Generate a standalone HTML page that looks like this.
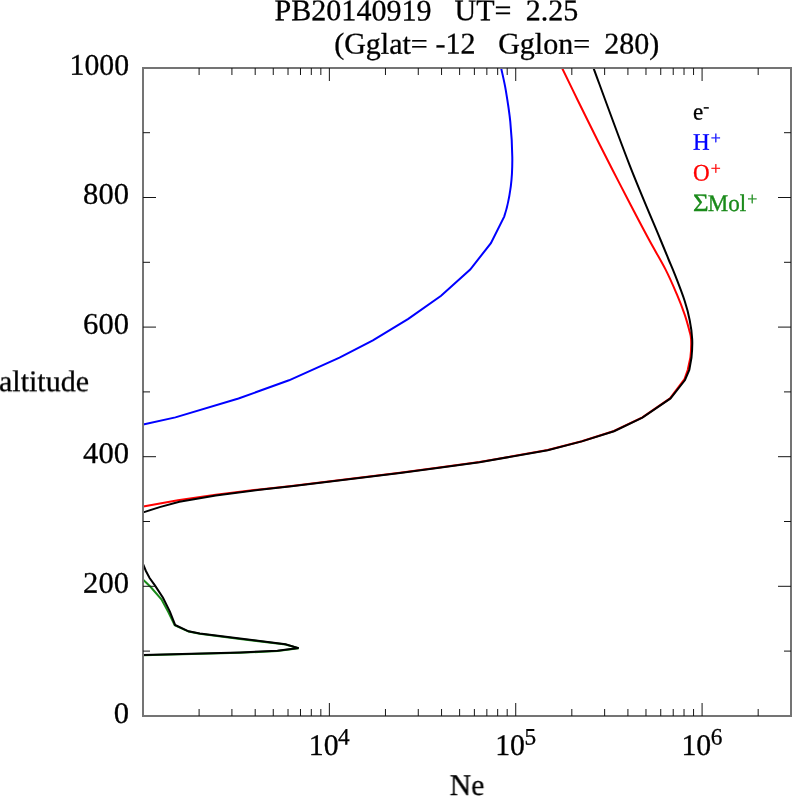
<!DOCTYPE html>
<html><head><meta charset="utf-8"><title>PB20140919 UT= 2.25</title>
<style>
html,body{margin:0;padding:0;background:#fff;}
svg{display:block;will-change:transform;}
text{font-family:"Liberation Serif","DejaVu Serif",serif;text-rendering:geometricPrecision;fill:#000;stroke:#000;stroke-width:0.3px;white-space:pre;}
.t{font-size:30px;}
.l{font-size:23.3px;}
.s{font-size:23.5px;}
.ls{font-size:18px;}
</style></head><body>
<svg width="792" height="796" viewBox="0 0 792 796">
<rect x="0" y="0" width="792" height="796" fill="#fff"/>
<filter id="f" x="-5%" y="-5%" width="110%" height="110%"><feOffset dx="0" dy="0"/></filter>
<clipPath id="c"><rect x="143" y="68" width="648" height="648"/></clipPath>
<g clip-path="url(#c)" fill="none" stroke-width="2" stroke-linejoin="miter" stroke-linecap="butt">
<path stroke="#0000ff" d="M143.2 424.5L175.4 417.4L238.5 398.5L289.0 380.3L339.5 357.6L372.9 340.4L408.3 318.9L441.1 295.7L470.2 269.6L490.9 243.1L504.2 216.6C507.5 207.1 509.5 196.2 510.8 186.3C512.1 176.4 512.4 167.9 512.3 157.2C512.2 146.5 511.4 133.1 510.3 121.9C509.2 110.8 507.3 99.2 505.8 90.3C504.3 81.4 502.0 72.3 501.2 68.3C500.4 64.2 500.9 66.4 500.8 66.0"/>
<polyline stroke="#1a8a1a" points="143.2,579.8 150.7,587.0 161.4,599.3 168.3,612.1 174.7,625.3 188.6,631.6 199.8,633.8 240.0,638.9 285.5,644.5 298.6,648.2 277.4,651.1 240.0,652.8 143.4,655.2"/>
<path stroke="#ff0000" d="M143.3 506.4L177.9 500.3L215.8 494.8L259.7 489.4L291.5 486.0L400.0 472.7L439.2 467.5L479.5 462.1L547.7 450.0L581.8 441.2L614.0 431.0L642.4 417.4L670.0 398.4L684.5 379.0L687.7 370.0L690.4 357.5C691.0 352.4 691.3 343.9 691.1 339.4C690.9 334.9 690.4 334.5 689.3 330.4C688.2 326.3 686.8 320.6 684.7 314.6C682.6 308.6 680.0 301.7 676.8 294.2C673.6 286.7 670.1 278.4 665.5 269.4C660.9 260.4 655.0 250.7 649.2 240.0C643.4 229.3 636.8 216.7 630.7 205.0C624.6 193.3 618.6 181.7 612.6 170.0C606.6 158.3 600.7 146.7 594.9 135.0C589.1 123.3 583.0 111.1 577.6 100.0C572.2 88.9 565.0 74.0 562.2 68.3C559.5 62.6 561.3 66.4 561.1 66.0"/>
<path stroke="#000000" d="M143.3 512.4L159.7 507.1L179.4 501.8L215.8 495.5L259.7 489.7L291.5 486.2L400.0 472.9L439.2 467.7L479.5 462.3L547.7 450.2L581.8 441.4L614.0 431.2L642.4 417.6L670.5 398.4L685.0 380.0L689.3 370.0L691.5 357.5C692.0 352.4 692.5 345.6 692.2 339.4C691.9 333.2 691.0 326.6 689.7 320.2C688.5 313.8 687.2 308.7 684.7 301.0C682.2 293.3 677.3 280.8 674.6 273.9C671.9 267.0 670.9 265.1 668.6 259.5C666.3 253.8 667.1 255.8 660.6 240.0C654.1 224.2 640.7 193.4 629.5 164.8C618.3 136.2 599.7 84.8 593.6 68.3C587.5 51.8 592.9 66.4 592.8 66.0"/>
<polyline stroke="#000000" points="143.2,564.4 145.9,571.0 149.6,578.0 154.9,585.4 163.0,597.7 169.9,611.6 175.1,624.9 188.6,631.3 199.8,633.5 240.0,638.6 285.5,644.2 298.6,648.1 277.4,650.8 240.0,652.5 143.4,655.0"/>
</g>
<rect x="143" y="68" width="648" height="648" fill="none" stroke="#747474" stroke-width="2"/>
<g stroke="#151515" stroke-width="1" fill="none">
<line x1="199.1" y1="716" x2="199.1" y2="709"/>
<line x1="199.1" y1="68" x2="199.1" y2="75"/>
<line x1="231.92" y1="716" x2="231.92" y2="709"/>
<line x1="231.92" y1="68" x2="231.92" y2="75"/>
<line x1="255.2" y1="716" x2="255.2" y2="709"/>
<line x1="255.2" y1="68" x2="255.2" y2="75"/>
<line x1="273.26" y1="716" x2="273.26" y2="709"/>
<line x1="273.26" y1="68" x2="273.26" y2="75"/>
<line x1="288.02" y1="716" x2="288.02" y2="709"/>
<line x1="288.02" y1="68" x2="288.02" y2="75"/>
<line x1="300.49" y1="716" x2="300.49" y2="709"/>
<line x1="300.49" y1="68" x2="300.49" y2="75"/>
<line x1="311.3" y1="716" x2="311.3" y2="709"/>
<line x1="311.3" y1="68" x2="311.3" y2="75"/>
<line x1="320.83" y1="716" x2="320.83" y2="709"/>
<line x1="320.83" y1="68" x2="320.83" y2="75"/>
<line x1="329.36" y1="716" x2="329.36" y2="703"/>
<line x1="329.36" y1="68" x2="329.36" y2="81"/>
<line x1="385.46" y1="716" x2="385.46" y2="709"/>
<line x1="385.46" y1="68" x2="385.46" y2="75"/>
<line x1="418.28" y1="716" x2="418.28" y2="709"/>
<line x1="418.28" y1="68" x2="418.28" y2="75"/>
<line x1="441.56" y1="716" x2="441.56" y2="709"/>
<line x1="441.56" y1="68" x2="441.56" y2="75"/>
<line x1="459.62" y1="716" x2="459.62" y2="709"/>
<line x1="459.62" y1="68" x2="459.62" y2="75"/>
<line x1="474.38" y1="716" x2="474.38" y2="709"/>
<line x1="474.38" y1="68" x2="474.38" y2="75"/>
<line x1="486.85" y1="716" x2="486.85" y2="709"/>
<line x1="486.85" y1="68" x2="486.85" y2="75"/>
<line x1="497.66" y1="716" x2="497.66" y2="709"/>
<line x1="497.66" y1="68" x2="497.66" y2="75"/>
<line x1="507.19" y1="716" x2="507.19" y2="709"/>
<line x1="507.19" y1="68" x2="507.19" y2="75"/>
<line x1="515.72" y1="716" x2="515.72" y2="703"/>
<line x1="515.72" y1="68" x2="515.72" y2="81"/>
<line x1="571.82" y1="716" x2="571.82" y2="709"/>
<line x1="571.82" y1="68" x2="571.82" y2="75"/>
<line x1="604.64" y1="716" x2="604.64" y2="709"/>
<line x1="604.64" y1="68" x2="604.64" y2="75"/>
<line x1="627.92" y1="716" x2="627.92" y2="709"/>
<line x1="627.92" y1="68" x2="627.92" y2="75"/>
<line x1="645.98" y1="716" x2="645.98" y2="709"/>
<line x1="645.98" y1="68" x2="645.98" y2="75"/>
<line x1="660.74" y1="716" x2="660.74" y2="709"/>
<line x1="660.74" y1="68" x2="660.74" y2="75"/>
<line x1="673.22" y1="716" x2="673.22" y2="709"/>
<line x1="673.22" y1="68" x2="673.22" y2="75"/>
<line x1="684.02" y1="716" x2="684.02" y2="709"/>
<line x1="684.02" y1="68" x2="684.02" y2="75"/>
<line x1="693.56" y1="716" x2="693.56" y2="709"/>
<line x1="693.56" y1="68" x2="693.56" y2="75"/>
<line x1="702.08" y1="716" x2="702.08" y2="703"/>
<line x1="702.08" y1="68" x2="702.08" y2="81"/>
<line x1="758.18" y1="716" x2="758.18" y2="709"/>
<line x1="758.18" y1="68" x2="758.18" y2="75"/>
<line x1="143" y1="651.1" x2="150" y2="651.1"/>
<line x1="791" y1="651.1" x2="784" y2="651.1"/>
<line x1="143" y1="586.3" x2="156" y2="586.3"/>
<line x1="791" y1="586.3" x2="778" y2="586.3"/>
<line x1="143" y1="521.5" x2="150" y2="521.5"/>
<line x1="791" y1="521.5" x2="784" y2="521.5"/>
<line x1="143" y1="456.7" x2="156" y2="456.7"/>
<line x1="791" y1="456.7" x2="778" y2="456.7"/>
<line x1="143" y1="391.9" x2="150" y2="391.9"/>
<line x1="791" y1="391.9" x2="784" y2="391.9"/>
<line x1="143" y1="327.1" x2="156" y2="327.1"/>
<line x1="791" y1="327.1" x2="778" y2="327.1"/>
<line x1="143" y1="262.3" x2="150" y2="262.3"/>
<line x1="791" y1="262.3" x2="784" y2="262.3"/>
<line x1="143" y1="197.5" x2="156" y2="197.5"/>
<line x1="791" y1="197.5" x2="778" y2="197.5"/>
<line x1="143" y1="132.7" x2="150" y2="132.7"/>
<line x1="791" y1="132.7" x2="784" y2="132.7"/>
</g>
<g class="t" filter="url(#f)">
<text transform="translate(274.6 20.3) rotate(0.05) scale(1.001 1.0)">PB20140919</text>
<text transform="translate(454.6 20.3) rotate(0.05) scale(1.0 1.0)">UT=</text>
<text transform="translate(525.8 20.3) rotate(0.05) scale(1.0 1.0)">2.25</text>
<text transform="translate(334.2 53.6) rotate(0.05) scale(1.0 1.0)">(Gglat=</text>
<text transform="translate(435.4 53.6) rotate(0.05) scale(1.0 1.0)">-12</text>
<text transform="translate(498.2 53.6) rotate(0.05) scale(1.0 1.0)">Gglon=</text>
<text transform="translate(604.3 53.6) rotate(0.05) scale(1.0 1.0)">280)</text>
<text transform="translate(129.0 74.9) rotate(0.05) scale(0.99 1.0)" text-anchor="end">1000</text>
<text transform="translate(129.0 203.8) rotate(0.05) scale(1.02 1.0)" text-anchor="end">800</text>
<text transform="translate(129.0 333.8) rotate(0.05) scale(1.02 1.0)" text-anchor="end">600</text>
<text transform="translate(129.0 463.0) rotate(0.05) scale(1.02 1.0)" text-anchor="end">400</text>
<text transform="translate(129.0 592.8) rotate(0.05) scale(1.02 1.0)" text-anchor="end">200</text>
<text transform="translate(129.0 723.1) rotate(0.05) scale(1.02 1.0)" text-anchor="end">0</text>
<text transform="translate(-1 391.2) rotate(0.05) scale(1.0 1.0)">altitude</text>
<text transform="translate(449.7 795) rotate(0.05) scale(0.99 1.0)">Ne</text>
<text transform="translate(308.8 755.0) rotate(0.05) scale(0.99 1.0)">10<tspan class="s" dx="-0.4" dy="-10.6">4</tspan></text>
<text transform="translate(495.2 755.0) rotate(0.05) scale(0.99 1.0)">10<tspan class="s" dx="-0.4" dy="-10.6">5</tspan></text>
<text transform="translate(681.5 755.0) rotate(0.05) scale(0.99 1.0)">10<tspan class="s" dx="-0.4" dy="-10.6">6</tspan></text>
</g>
<g class="l" filter="url(#f)">
<text transform="translate(693 119.5) rotate(0.05) scale(0.99 1.02)">e<tspan class="ls" dx="0" dy="-7">-</tspan></text>
<text transform="translate(693 149.8) rotate(0.05) scale(0.99 1.02)" style="fill:#0000ff;stroke:#0000ff">H<tspan class="ls" dx="1" dy="-5.8">+</tspan></text>
<text transform="translate(693 180.5) rotate(0.05) scale(0.99 1.02)" style="fill:#ff0000;stroke:#ff0000">O<tspan class="ls" dx="1" dy="-5.8">+</tspan></text>
<text transform="translate(693 210.9) rotate(0.05) scale(1.1 1.02)" style="fill:#1a8a1a;stroke:#1a8a1a"><tspan font-size="24.4">Σ</tspan></text>
<text transform="translate(707.8 210.9) rotate(0.05) scale(0.99 1.02)" style="fill:#1a8a1a;stroke:#1a8a1a">Mol<tspan class="ls" dx="1" dy="-5.8">+</tspan></text>
</g>
</svg>
</body></html>
